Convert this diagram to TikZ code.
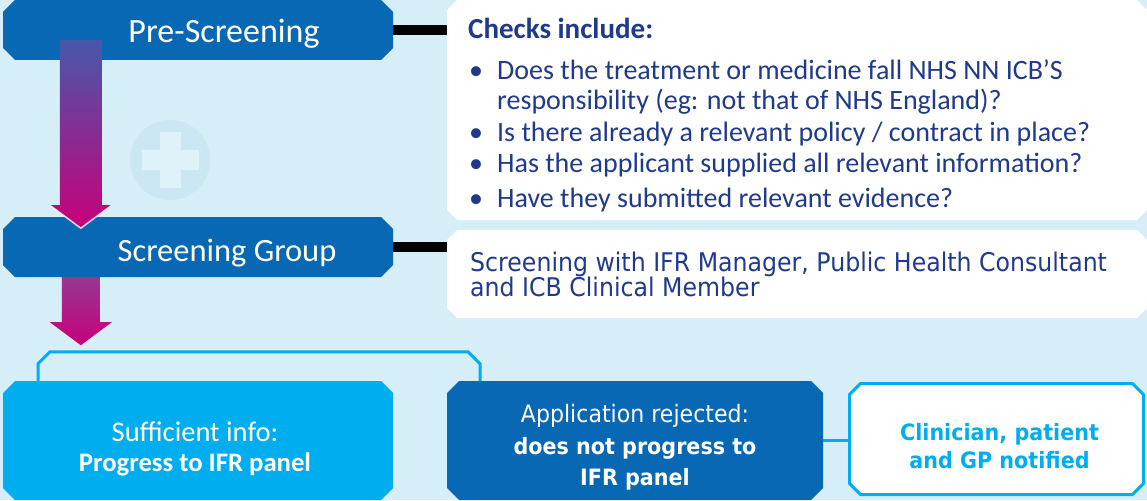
\documentclass[tikz,border=0pt]{standalone}
\usepackage{fontspec}
\setmainfont{Carlito}
\newfontfamily\tahfont[FakeStretch=0.92]{DejaVu Sans}
\usetikzlibrary{positioning, calc}

\definecolor{bgblue}{RGB}{214,238,247}
\definecolor{crossring}{RGB}{203,231,244}
\definecolor{crossbar}{RGB}{223,241,249}
\definecolor{stageblue}{RGB}{8,104,180}
\definecolor{skyblue}{RGB}{0,174,239}
\definecolor{navyblue}{RGB}{31,58,140}
\definecolor{arrowpink}{RGB}{200,0,122}
\definecolor{arrowmid}{RGB}{150,55,145}
\definecolor{arrowtop}{RGB}{70,88,170}

% outline with cut corners, #1 = cut, #2 = inset
\newcommand{\cutpath}[2]{([shift={(#1+#2,-#2)}]path picture bounding box.north west) -- ([shift={(-#1-#2,-#2)}]path picture bounding box.north east) -- ([shift={(-#2,-#1-#2)}]path picture bounding box.north east) -- ([shift={(-#2,#1+#2)}]path picture bounding box.south east) -- ([shift={(-#1-#2,#2)}]path picture bounding box.south east) -- ([shift={(#1+#2,#2)}]path picture bounding box.south west) -- ([shift={(#2,#1+#2)}]path picture bounding box.south west) -- ([shift={(#2,-#1-#2)}]path picture bounding box.north west) -- cycle}

\begin{document}
\begin{tikzpicture}[x=1pt, y=-1pt,
    stage/.style={rectangle, inner sep=0pt, minimum width=390pt, minimum height=60pt, path picture={\fill[#1] \cutpath{12pt}{0pt};}},
    stage/.default=stageblue,
    panel/.style={rectangle, inner sep=0pt, minimum width=700pt, path picture={\fill[white] \cutpath{10pt}{0pt};}},
    boxtext/.style={text=white, align=center, inner sep=0pt},
    checktext/.style={text=navyblue, anchor=base west, align=left, inner sep=0pt, font=\fontsize{28}{30.5}\selectfont},
    bar/.style={line width=10pt, black},
    link/.style={line width=3pt, skyblue},
    headedge/.style={draw=white, line width=1.5pt, draw opacity=0.8}]

    % Background
    \path[use as bounding box, fill=bgblue] (0,0) rectangle (1147,500);
    \fill[crossring] (170,160) circle (40pt);
    \fill[crossbar] (160,132) rectangle (181,188);
    \fill[crossbar] (142,150) rectangle (199,170);

    % Panels
    \node[panel, minimum height=220pt] (chkpanel) at (797,110) {};
    \node[panel, minimum height=88pt] (sgpanel) at (797,274) {};

    % Stages
    \node[stage] (ps) at (198,30) {};
    \node[boxtext, font=\fontsize{34}{40}\selectfont] (pslabel) at ([xshift=26pt, yshift=-4pt]ps.center) {Pre-Screening};
    \node[stage] (sg) at (198,247) {};
    \node[boxtext, font=\fontsize{32.5}{38}\selectfont] (sglabel) at ([xshift=29pt, yshift=-6pt]sg.center) {Screening Group};

    \node[stage=skyblue, minimum height=119pt] (suff) at (198,440.5) {};
    \node[boxtext, font=\fontsize{28.5}{30}\selectfont] (sufftext) at ([xshift=-3pt, yshift=-8pt]suff.center)
        {Sufficient info:\\\textbf{\fontsize{26.7}{30}\selectfont Progress to IFR panel}};
    \node[stage, minimum width=376pt, minimum height=119pt] (rej) at (635,440.5) {};
    \node[boxtext, font=\tahfont\fontsize{24}{31.5}\selectfont] (rejtext) at ([yshift=-7pt]rej.center)
        {Application rejected:\\\textbf{\fontsize{22.5}{31.5}\selectfont does not progress to}\\\textbf{\fontsize{22.5}{31.5}\selectfont IFR panel}};
    \node[rectangle, inner sep=0pt, minimum width=297pt, minimum height=114pt,
          path picture={\fill[white] \cutpath{12pt}{0pt}; \draw[skyblue, line width=3pt] \cutpath{11pt}{1.5pt};}] (clin) at (996.5,439) {};
    \node[boxtext, text=skyblue, font=\tahfont\bfseries\fontsize{22.5}{28}\selectfont] (clintext) at ([xshift=3pt, yshift=-7pt]clin.center)
        {Clinician, patient\\and GP notified};

    % Arrows
    \coordinate (a1) at ($(ps.south west)+(78,-20)$);
    \shade[top color=arrowtop, middle color=arrowmid, bottom color=arrowpink] (a1) ++(-21,0) -- ++(42,0) -- ++(0,165) -- ++(10,0) -- ++(-31,23) -- ++(-31,-23) -- ++(10,0) -- cycle;
    \draw[headedge] (a1) ++(31,165) -- ++(-31,23) -- ++(-31,-23);
    \coordinate (a2) at ($(sg.south west)+(78,0)$);
    \shade[top color=arrowmid, bottom color=arrowpink] (a2) ++(-19,0) -- ++(38,0) -- ++(0,45) -- ++(12,0) -- ++(-31,23) -- ++(-31,-23) -- ++(12,0) -- cycle;

    % Bars and links
    \draw[bar] (ps.east) -- (ps.east -| chkpanel.west);
    \draw[bar] (sg.east) -- (sg.east -| sgpanel.west);
    \draw[link] ($(suff.north)+(-160,0)$) -- ++(0,-17) -- ++(12,-12) -- ($(rej.north)+(-167,-29)$) -- ++(12,12) -- ++(0,17);
    \draw[link] (rej.east) -- (clin.west |- rej.east);

    % Check list
    \node[checktext, font=\bfseries\fontsize{29}{30.5}\selectfont] (chkhead) at (468,39) {Checks include:};
    \node[checktext] (chk1) at (469,110) {\makebox[28pt][l]{\textbullet}Does the treatment or medicine fall NHS NN ICB’S\\\hspace*{28pt}responsibility (eg: not that of NHS England)?};
    \node[checktext] (chk2) at (469,141) {\makebox[28pt][l]{\textbullet}Is there already a relevant policy / contract in place?};
    \node[checktext] (chk3) at (469,172) {\makebox[28pt][l]{\textbullet}Has the applicant supplied all relevant information?};
    \node[checktext] (chk4) at (469,207) {\makebox[28pt][l]{\textbullet}Have they submitted relevant evidence?};

    \node[text=navyblue, font=\tahfont\fontsize{25.7}{25}\selectfont, align=left, anchor=north west, inner sep=0pt] (sgtext) at (470,252)
        {Screening with IFR Manager, Public Health Consultant\\and ICB Clinical Member};
\end{tikzpicture}
\end{document}
